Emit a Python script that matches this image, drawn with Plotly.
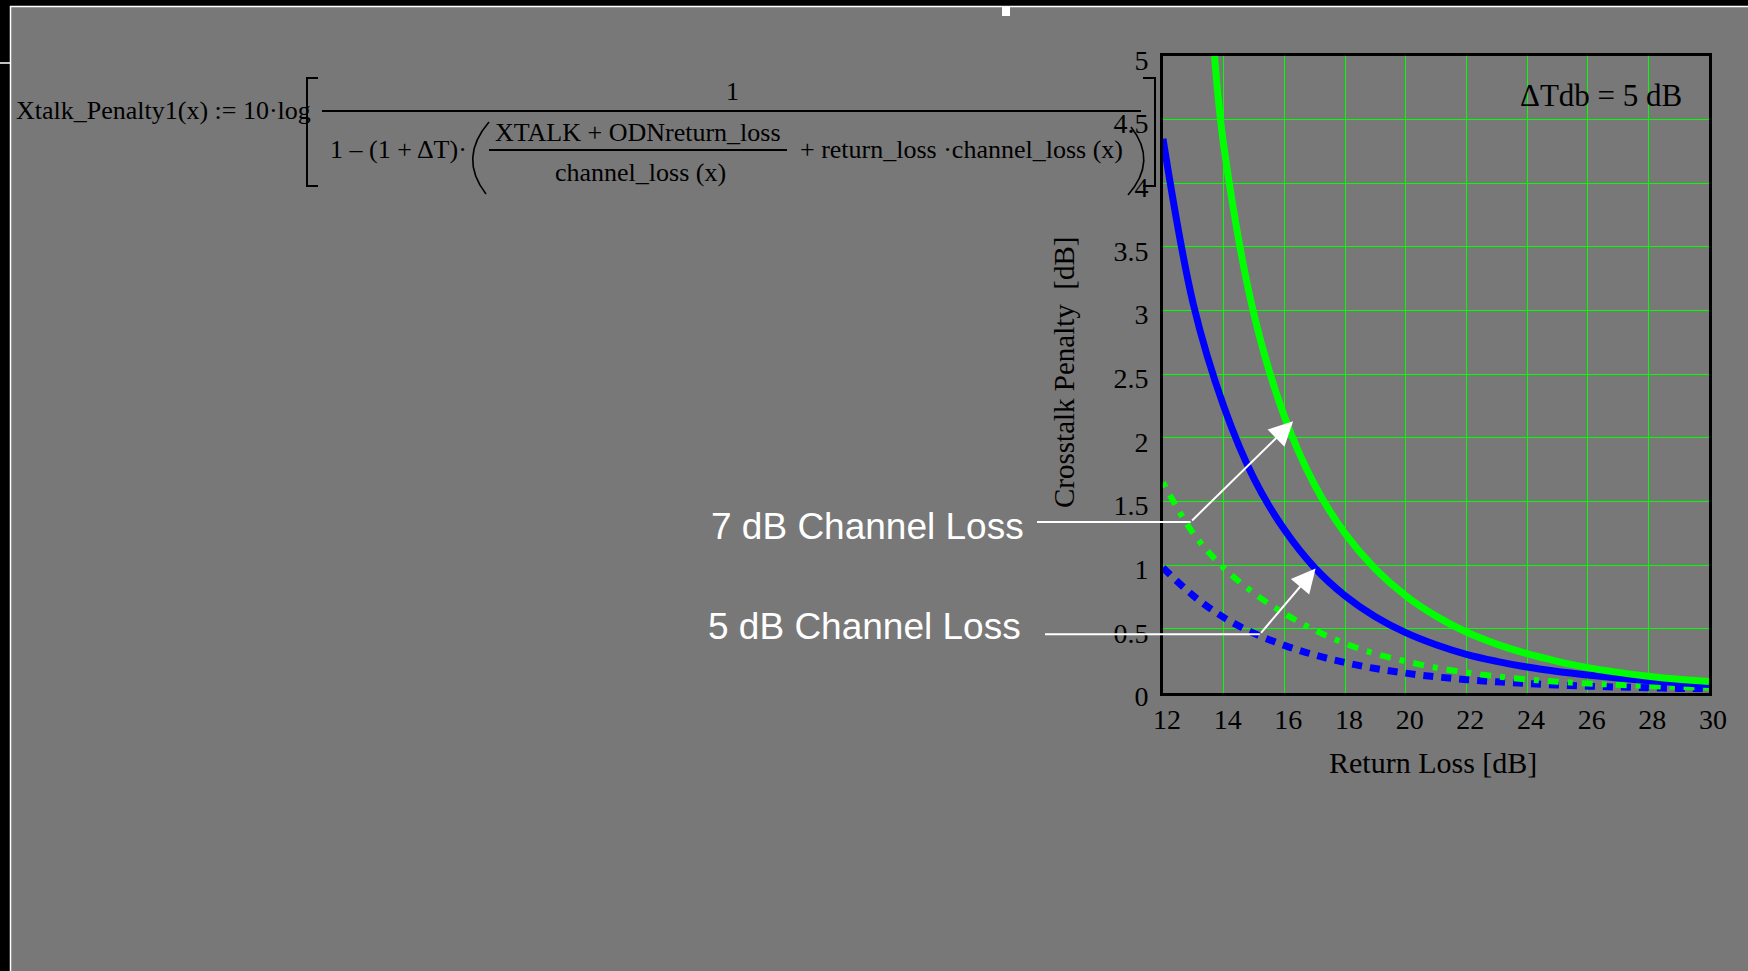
import plotly.graph_objects as go

W, H = 1748, 971

# ---------------- data ----------------
rl_x = [12, 13, 14, 15, 16, 17, 18, 19, 20, 21, 22, 23, 24, 25, 26, 27, 28, 29, 30]

green_solid_x = [13.7, 14, 15, 16, 17, 18, 19, 20, 21, 22, 23, 24, 25, 26, 27, 28, 29, 30]
green_solid_y = [5.0, 4.3, 2.97, 2.17, 1.63, 1.25, 0.97, 0.76, 0.6, 0.475, 0.38, 0.305, 0.245, 0.195, 0.158, 0.128, 0.104, 0.086]

blue_solid_y = [4.35, 3.05, 2.25, 1.68, 1.28, 0.98, 0.76, 0.595, 0.47, 0.375, 0.3, 0.245, 0.2, 0.165, 0.137, 0.113, 0.093, 0.076, 0.062]

green_dot_y = [1.65, 1.25, 0.98, 0.78, 0.62, 0.49, 0.385, 0.305, 0.245, 0.195, 0.157, 0.127, 0.103, 0.085, 0.071, 0.06, 0.051, 0.044, 0.038]

blue_dash_y = [0.98, 0.76, 0.59, 0.465, 0.37, 0.295, 0.235, 0.188, 0.152, 0.123, 0.101, 0.084, 0.07, 0.059, 0.05, 0.043, 0.037, 0.032, 0.028]

x_ticks = [12, 14, 16, 18, 20, 22, 24, 26, 28, 30]
y_ticks = [0, 0.5, 1, 1.5, 2, 2.5, 3, 3.5, 4, 4.5, 5]
y_ticktext = ["0", "0.5", "1", "1.5", "2", "2.5", "3", "3.5", "4", "4.5", "5"]

# leader / arrow points (data coords): (kink x, kink y, tip x, tip y)
leader_7db = (12.91, 1.34, 16.29, 2.13)
leader_5db = (15.19, 0.457, 17.03, 0.974)

BG = "#787878"
GREEN = "#00ff00"
BLUE = "#0000ff"
SERIF = "Liberation Serif"
SANS = "Liberation Sans"


def px(x):
    return x / W


def py(y):
    return 1 - y / H


# plot domain in pixels
PL, PR, PT, PB = 1163, 1709, 56, 692.5
XD = [px(PL), px(PR)]
YD = [py(PB), py(PT)]
X_RANGE = [12, 30]


def xdata_to_paper(v):
    return XD[0] + (v - X_RANGE[0]) / (X_RANGE[1] - X_RANGE[0]) * (XD[1] - XD[0])


fig = go.Figure()

fig.add_trace(go.Scatter(x=rl_x, y=blue_dash_y, mode="lines",
                         line=dict(color=BLUE, width=7, dash="10px,8px", shape="spline"),
                         showlegend=False, hoverinfo="skip"))
fig.add_trace(go.Scatter(x=rl_x, y=green_dot_y, mode="lines",
                         line=dict(color=GREEN, width=6, dash="5px,9px,11px,9px", shape="spline"),
                         showlegend=False, hoverinfo="skip"))
fig.add_trace(go.Scatter(x=rl_x, y=blue_solid_y, mode="lines",
                         line=dict(color=BLUE, width=7, shape="spline"),
                         showlegend=False, hoverinfo="skip"))
fig.add_trace(go.Scatter(x=green_solid_x, y=green_solid_y, mode="lines",
                         line=dict(color=GREEN, width=7, shape="spline"),
                         showlegend=False, hoverinfo="skip"))

shapes = []
annotations = []


def pline(x0, y0, x1, y1, color="black", width=2):
    shapes.append(dict(type="line", xref="paper", yref="paper",
                       x0=px(x0), y0=py(y0), x1=px(x1), y1=py(y1),
                       line=dict(color=color, width=width)))


def prect(x0, y0, x1, y1, color):
    shapes.append(dict(type="rect", xref="paper", yref="paper",
                       x0=px(x0), y0=py(y0), x1=px(x1), y1=py(y1),
                       line=dict(width=0), fillcolor=color, layer="above"))


def ppath(points_cmd, color="black", width=1.6):
    shapes.append(dict(type="path", xref="paper", yref="paper", path=points_cmd,
                       line=dict(color=color, width=width)))


def ptext(text, x, y, size=26, xanchor="left", color="black", family=SERIF, angle=0):
    annotations.append(dict(text=text, x=px(x), y=py(y), xref="paper", yref="paper",
                            xanchor=xanchor, yanchor="middle", showarrow=False,
                            textangle=angle,
                            font=dict(family=family, size=size, color=color)))


# ---- window frame (black strips with white edge) ----
prect(-0.01, 0, W, 6, "black")
prect(-0.01, 0, 10, H + 5, "black")
pline(10, 6.5, W + 5, 6.5, "white", 1.5)
pline(10.5, 6, 10.5, H + 5, "white", 1.5)
pline(0, 63, 10, 63, "white", 1.5)
prect(1002, 7, 1010, 16, "white")

# ---- formula ----
ptext("Xtalk_Penalty1(x) := 10·log", 14, 111)
# big square brackets
pline(318, 78, 307, 78)
pline(307, 77, 307, 187)
pline(307, 186, 318, 186)
pline(1143, 78, 1155, 78)
pline(1155, 77, 1155, 187)
pline(1143, 186, 1155, 186)
# main fraction
ptext("1", 732, 92, xanchor="center")
pline(322, 111, 1141, 111)
ptext("1 – (1 + ΔT)·", 328, 150)
# big parentheses


def paren(xt, yt, xm, ym, xb, yb):
    ppath("M {},{} Q {},{} {},{}".format(px(xt), py(yt), px(xm), py(ym), px(xb), py(yb)))


paren(489, 122, 458, 158, 486, 194)
paren(1131, 127, 1158, 161, 1128, 195)
# inner fraction
ptext("XTALK + ODNreturn_loss", 493, 133)
pline(489, 150, 787, 150, width=2)
ptext("channel_loss (x)", 553, 173)
ptext("+ return_loss ·channel_loss (x)", 798, 150)

# ---- in-plot label ----
ptext("ΔTdb = 5 dB", 1684, 96, size=31, xanchor="right")

# ---- axis titles ----
ptext("Return Loss [dB]", 1433, 762, size=30, xanchor="center")
ptext("Crosstalk Penalty  [dB]", 1064, 373, size=29, xanchor="center", angle=-90)

# ---- channel loss labels with leaders ----
ptext("7 dB Channel Loss", 1026, 526, size=37, xanchor="right", color="white", family=SANS)
ptext("5 dB Channel Loss", 1023, 626, size=37, xanchor="right", color="white", family=SANS)

for start_px, (kx, ky, tx, ty) in [(1037, leader_7db), (1045, leader_5db)]:
    shapes.append(dict(type="line", xref="paper", yref="y",
                       x0=px(start_px), x1=xdata_to_paper(kx), y0=ky, y1=ky,
                       line=dict(color="white", width=2)))
    annotations.append(dict(x=tx, y=ty, ax=kx, ay=ky, xref="x", yref="y",
                            axref="x", ayref="y", text="", showarrow=True,
                            arrowhead=2, arrowsize=2.4, arrowwidth=2,
                            arrowcolor="white"))

fig.update_layout(
    template="none",
    width=W, height=H, autosize=False,
    margin=dict(l=0, r=0, t=0, b=0, pad=0, autoexpand=False),
    paper_bgcolor=BG, plot_bgcolor=BG,
    showlegend=False,
    shapes=shapes,
    annotations=annotations,
    xaxis=dict(domain=XD, range=X_RANGE, tickvals=x_ticks, automargin=False,
               showgrid=True, gridcolor=GREEN, gridwidth=1,
               showline=True, linecolor="black", linewidth=3, mirror=True,
               zeroline=False, ticks="", ticklabelstandoff=0, ticklabelshift=4,
               tickfont=dict(family=SERIF, size=28, color="black")),
    yaxis=dict(domain=YD, range=[0, 5], tickvals=y_ticks, ticktext=y_ticktext, automargin=False,
               showgrid=True, gridcolor=GREEN, gridwidth=1,
               showline=True, linecolor="black", linewidth=3, mirror=True,
               zeroline=False, ticks="", ticklabelstandoff=6, ticklabelshift=4,
               tickfont=dict(family=SERIF, size=28, color="black")),
)

fig.write_html(
    "out.html",
    config={"displayModeBar": False},
    post_script=(
        "document.documentElement.style.margin='0';"
        "document.documentElement.style.padding='0';"
        "document.documentElement.style.overflow='hidden';"
        "document.body.style.margin='0';document.body.style.padding='0';"
        "document.body.style.overflow='hidden';"
        "document.body.style.background='" + BG + "';"
        "var gd=document.getElementById('{plot_id}');"
        "gd.style.position='fixed';gd.style.left='0px';gd.style.top='0px';"
    ),
)
